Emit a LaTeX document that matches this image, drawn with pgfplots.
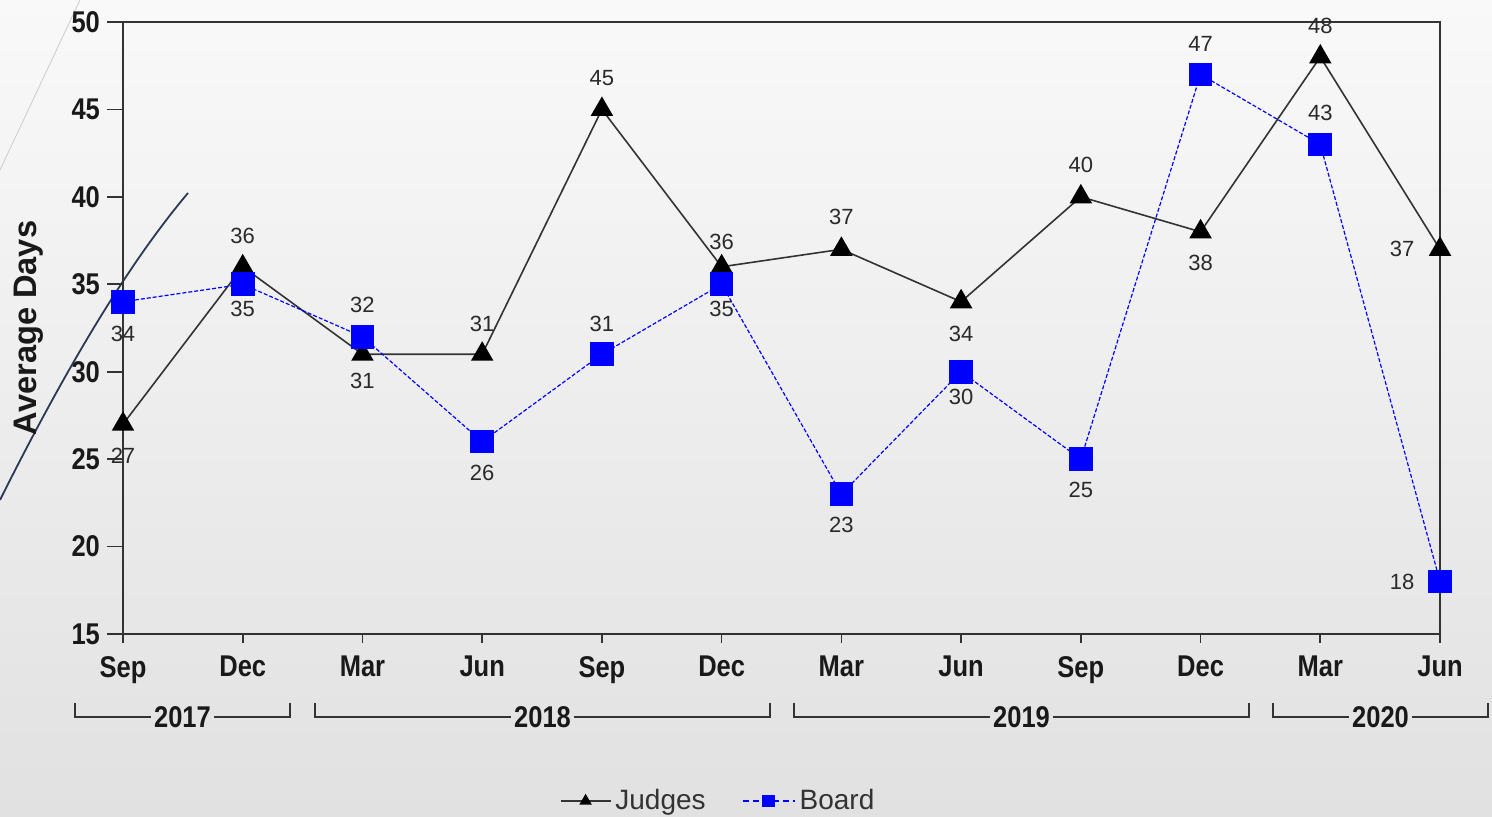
\documentclass[border=0pt]{standalone}
\usepackage{pgfplots}
\pgfplotsset{compat=1.18}
\usepackage{pgfplotstable}
\usepackage{fontspec}
\setmainfont{Liberation Sans}
\newfontfamily\cond[FakeStretch=0.85]{Liberation Sans}

\definecolor{bgtop}{HTML}{F9F9F9}
\definecolor{bgbot}{HTML}{E2E1E2}
\definecolor{navy}{HTML}{2A3A55}
\definecolor{axc}{HTML}{333333}
\definecolor{lblc}{HTML}{2A2A2A}
\definecolor{boardblue}{HTML}{0000FF}

\pgfplotsset{
  judgesleg/.style={legend image code/.code={\draw[##1] (0pt,0pt) -- (25pt,0pt); \draw[##1, mark size=2.8pt] plot coordinates {(12.5pt,0pt)};}},
  boardleg/.style={legend image code/.code={\draw[##1, dash pattern=on 3pt off 2pt, line width=1pt] (0pt,0pt) -- (26pt,0pt); \draw[##1, mark size=2.8pt] plot coordinates {(13pt,0pt)};}},
}

\pgfplotstableread{
x y dx dy
0 27 0 -16
1 36 0 15.5
2 31 0 -13.5
3 31 0 15
4 45 0 15.5
5 36 0 12.5
6 37 0 16
7 34 0 -16
8 40 0 16
9 38 0 -15.5
10 48 0 15.5
11 37 -19 0
}\judges

\pgfplotstableread{
x y dx dy
0 34 0 -16
1 35 0 -12.5
2 32 0 16
3 26 0 -15.5
4 31 0 15
5 35 0 -12.5
6 23 0 -15.5
7 30 0 -12.5
8 25 0 -15.5
9 47 0 15.5
10 43 0 15.5
11 18 -19 0
}\board

\begin{document}
\begin{tikzpicture}
\shade[top color=bgtop, bottom color=bgbot] (0,0) rectangle (746pt,408.5pt);
\useasboundingbox (0,0) rectangle (746pt,408.5pt);
\draw[color=gray!40, line width=0.4pt] (0,323.5pt) -- (40pt,408.5pt);
\draw[color=navy, line width=0.9pt] (0,158.5pt) .. controls (40pt,238.5pt) and (70pt,283.5pt) .. (94pt,312pt);

\begin{axis}[
  at={(61.5pt,91.5pt)}, anchor=south west,
  scale only axis, width=658.5pt, height=306pt,
  xmin=0, xmax=11, ymin=15, ymax=50,
  xtick={0,...,11},
  xticklabels={Sep,Dec,Mar,Jun,Sep,Dec,Mar,Jun,Sep,Dec,Mar,Jun},
  ytick={15,20,...,50},
  xtick pos=bottom, ytick pos=left,
  tick align=outside,
  major tick length=8pt,
  xtick style={/pgfplots/major tick length=4.5pt},
  tick style={color=axc, line width=0.8pt},
  axis line style={color=axc, line width=0.8pt},
  /pgf/number format/assume math mode=true,
  ticklabel style={font=\cond\bfseries\fontsize{15}{15}\selectfont, text=black!90},
  xticklabel style={yshift=0.5pt},
  ylabel={Average Days},
  ylabel style={at={([xshift=-47pt]axis description cs:0,0.5)}, anchor=center, font=\bfseries\fontsize{16.3}{16.3}\selectfont, text=black!90},
  clip=false,
  legend columns=2,
  legend style={draw=none, fill=none, at={(0.4526,0)}, anchor=center, yshift=-83.5pt,
    font=\fontsize{14}{14}\selectfont, text=axc,
    /tikz/every even column/.append style={column sep=16pt}},
]
\addplot[color=axc, line width=0.8pt, mark=triangle*, mark size=5.7pt,
  mark options={solid, fill=black, draw=black},
  judgesleg,
  nodes near coords,
  visualization depends on={\thisrow{dx}\as\dx},
  visualization depends on={\thisrow{dy}\as\dy},
  every node near coord/.append style={anchor=center, xshift=\dx pt, yshift=\dy pt, font=\fontsize{11}{11}\selectfont, text=lblc}
] table[x=x,y=y]{\judges};
\addlegendentry{Judges}
\addplot[color=boardblue, line width=0.6pt, dash pattern=on 2pt off 1pt, mark=square*, mark size=5.6pt,
  mark options={solid, fill=boardblue, draw=boardblue},
  boardleg,
  nodes near coords,
  visualization depends on={\thisrow{dx}\as\dx},
  visualization depends on={\thisrow{dy}\as\dy},
  every node near coord/.append style={anchor=center, xshift=\dx pt, yshift=\dy pt, font=\fontsize{11}{11}\selectfont, text=lblc}
] table[x=x,y=y]{\board};
\addlegendentry{Board}
\end{axis}

\foreach \a/\b/\yr in {37.5/145/2017, 157.5/385/2018, 397/624.5/2019, 636.5/744/2020}{
  \pgfmathsetmacro\m{(\a+\b)/2}
  \node[font=\cond\bfseries\fontsize{15}{15}\selectfont, inner xsep=1.5pt, inner ysep=0pt, text=black!90] (yr) at (\m pt, 50pt) {\yr};
  \draw[line width=0.75pt, color=axc] (yr.west) -- (\a pt,50pt) -- (\a pt,57pt);
  \draw[line width=0.75pt, color=axc] (yr.east) -- (\b pt,50pt) -- (\b pt,57pt);
}
\end{tikzpicture}
\end{document}
